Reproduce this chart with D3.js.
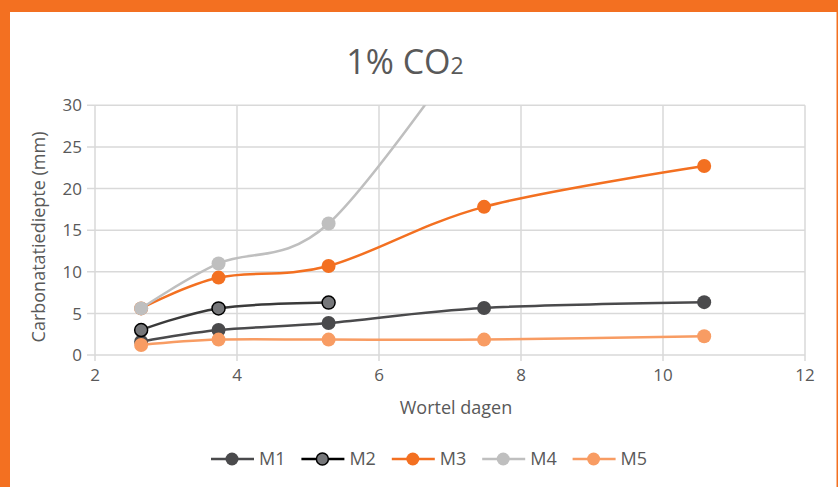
<!DOCTYPE html>
<html>
<head>
<meta charset="utf-8">
<script src="https://cdn.jsdelivr.net/npm/d3@7"></script>
<style>
  html, body { margin: 0; padding: 0; background: #fff; }
  svg { display: block; }
  text { font-family: "Open Sans", "Noto Sans", Arial, sans-serif; fill: #595959; }
</style>
</head>
<body>
<svg id="chart" width="838" height="487"></svg>
<script>
// ---- data ----
const xValues = [2.65, 3.74, 5.29, 7.48, 10.58];
const seriesNames = ["M1", "M2", "M3", "M4", "M5"];
const m1 = [1.6, 3.0, 3.85, 5.65, 6.35];
const m2 = [3.0, 5.6, 6.3];
const m3 = [5.6, 9.3, 10.7, 17.8, 22.7];
const m4 = [5.6, 11.0, 15.8, 40];
const m5 = [1.2, 1.85, 1.85, 1.85, 2.25];
const xTicks = [2, 4, 6, 8, 10, 12];
const yTicks = [0, 5, 10, 15, 20, 25, 30];
const titleMain = "1% CO";
const titleSub = "2";
const xTitle = "Wortel dagen";
const yTitle = "Carbonatatiediepte (mm)";

const seriesValues = [m1, m2, m3, m4, m5];
const styles = [
  { line: "#4a4a4c", fill: "#4a4a4c", stroke: "none", legendLine: "#4a4a4c" },
  { line: "#3a3a3a", fill: "#76777a", stroke: "#000", legendLine: "#000" },
  { line: "#f37021", fill: "#f37021", stroke: "none", legendLine: "#f37021" },
  { line: "#bfbfbf", fill: "#bfbfbf", stroke: "none", legendLine: "#bfbfbf" },
  { line: "#f89c63", fill: "#f89c63", stroke: "none", legendLine: "#f89c63" }
];

const svg = d3.select("#chart");
const W = 838, H = 487;

// frame
svg.append("rect").attr("x", 0).attr("y", 0).attr("width", W).attr("height", H).attr("fill", "#f37021");
svg.append("rect").attr("x", 10).attr("y", 12).attr("width", W - 11.5).attr("height", H - 12).attr("fill", "#fff");

const x = d3.scaleLinear().domain([2, 12]).range([95, 805]);
const y = d3.scaleLinear().domain([0, 30]).range([355, 105.3]);

// grid
const grid = svg.append("g");
grid.selectAll(".hg").data(yTicks).join("line")
  .attr("x1", x(2) - 8).attr("x2", x(12))
  .attr("y1", d => y(d)).attr("y2", d => y(d))
  .attr("stroke", "#d9d9d9").attr("stroke-width", 1.5);
grid.selectAll(".vg").data(xTicks).join("line")
  .attr("x1", d => x(d)).attr("x2", d => x(d))
  .attr("y1", y(30)).attr("y2", y(0) + 6)
  .attr("stroke", "#d9d9d9").attr("stroke-width", 1.5);

// tick labels
svg.append("g").selectAll("text").data(yTicks).join("text")
  .attr("x", 82).attr("y", d => y(d)).attr("dy", "0.36em")
  .attr("text-anchor", "end").attr("font-size", 17).text(d => d);
svg.append("g").selectAll("text").data(xTicks).join("text")
  .attr("x", d => x(d)).attr("y", 381)
  .attr("text-anchor", "middle").attr("font-size", 17).text(d => d);

// titles
const t = svg.append("text").attr("x", 405).attr("y", 74).attr("text-anchor", "middle")
  .attr("font-size", 34);
t.append("tspan").text(titleMain);
t.append("tspan").attr("font-size", 23).text(titleSub);

svg.append("text").attr("x", 456).attr("y", 414).attr("text-anchor", "middle")
  .attr("font-size", 18).text(xTitle);
svg.append("text").attr("transform", "translate(45,237) rotate(-90)")
  .attr("text-anchor", "middle").attr("font-size", 18).text(yTitle);

// clip
svg.append("clipPath").attr("id", "plotclip").append("rect")
  .attr("x", x(2)).attr("y", y(30)).attr("width", x(12) - x(2)).attr("height", y(0) - y(30));

const line = d3.line()
  .x((d, i) => x(xValues[i]))
  .y(d => y(d))
  .curve(d3.curveCatmullRom.alpha(0));

const plot = svg.append("g").attr("clip-path", "url(#plotclip)");
seriesValues.forEach((vals, si) => {
  const st = styles[si];
  const g = plot.append("g");
  g.append("path").datum(vals).attr("d", line)
    .attr("fill", "none").attr("stroke", st.line).attr("stroke-width", 2.5);
  g.selectAll("circle").data(vals).join("circle")
    .attr("cx", (d, i) => x(xValues[i])).attr("cy", d => y(d))
    .attr("r", st.stroke === "none" ? 7 : 6.5)
    .attr("fill", st.fill)
    .attr("stroke", st.stroke).attr("stroke-width", st.stroke === "none" ? 0 : 1.5);
});

// legend
const legend = svg.append("g");
seriesNames.forEach((name, i) => {
  const st = styles[i];
  const cx = 232 + i * 90.4;
  const cy = 459;
  legend.append("line").attr("x1", cx - 21).attr("x2", cx + 22).attr("y1", cy).attr("y2", cy)
    .attr("stroke", st.legendLine).attr("stroke-width", 2.5);
  legend.append("circle").attr("cx", cx).attr("cy", cy).attr("r", st.stroke === "none" ? 6.5 : 6)
    .attr("fill", st.fill).attr("stroke", st.stroke).attr("stroke-width", st.stroke === "none" ? 0 : 1.5);
  legend.append("text").attr("x", cx + 27).attr("y", cy).attr("dy", "0.36em")
    .attr("font-size", 18).text(name);
});
</script>
</body>
</html>
